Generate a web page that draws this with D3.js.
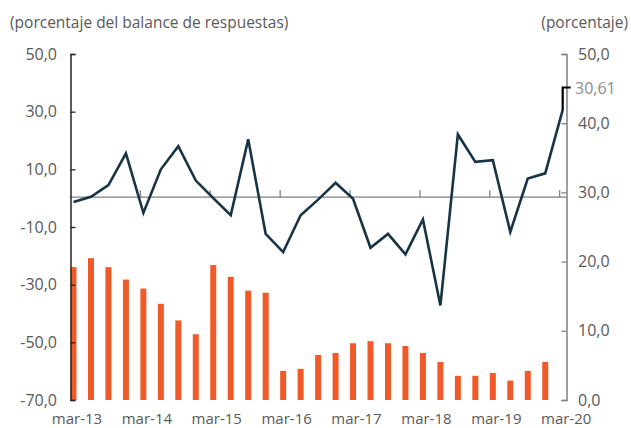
<!DOCTYPE html>
<html><head><meta charset="utf-8">
<script src="https://cdn.jsdelivr.net/npm/d3@7"></script>
<style>body{margin:0;background:#fff}svg{display:block}text{font-family:"Open Sans",sans-serif}</style>
</head><body><svg id="c" width="631" height="428"></svg>
<script>
const quarters = d3.range(29); // 2013Q1 .. 2020Q1
const lineValues = [-1.3,0.5,4.5,15.5,-5.1,10.0,18.0,6.1,0.0,-5.9,20.4,-12.4,-18.7,-5.9,-0.5,5.3,-0.2,-17.2,-12.4,-19.5,-7.4,-37.2,22.1,12.6,13.2,-11.7,6.8,8.6,30.61];
const barValues = [19.2,20.5,19.2,17.4,16.1,13.9,11.5,9.5,19.5,17.8,15.8,15.5,4.2,4.5,6.5,6.8,8.2,8.5,8.2,7.8,6.8,5.5,3.5,3.5,3.9,2.8,4.2,5.5];
const xLabels = ["mar-13","mar-14","mar-15","mar-16","mar-17","mar-18","mar-19","mar-20"];
const leftTicks = [50,30,10,-10,-30,-50,-70];
const rightTicks = [50,40,30,20,10,0];
const lastLabel = "30,61";

const svg = d3.select("#c");
const x = d3.scaleLinear().domain([0,28]).range([73.5,562.7]);
const yL = d3.scaleLinear().domain([-70,50]).range([400,54]);
const yR = d3.scaleLinear().domain([0,50]).range([400,54]);
const fmt = v => d3.format(".1f")(v).replace(".",",").replace("−","-");
const txt = "#595959";

// bars
svg.append("g").selectAll("rect").data(barValues).join("rect")
  .attr("x",(d,i)=>x(i)-3).attr("width",6)
  .attr("y",d=>yR(d)).attr("height",d=>yR(0)-yR(d))
  .attr("fill","#f05a28");

// zero line
const y0 = yL(0)-1;
svg.append("line").attr("x1",70).attr("x2",566.7).attr("y1",y0).attr("y2",y0)
  .attr("stroke","#7f7f7f").attr("stroke-width",1.3);
svg.append("g").selectAll("line").data(d3.range(4,29,4)).join("line")
  .attr("x1",d=>x(d)-3).attr("x2",d=>x(d)-3).attr("y1",y0-7).attr("y2",y0)
  .attr("stroke","#7f7f7f").attr("stroke-width",1.3);

// left axis
const gL = svg.append("g").attr("transform","translate(70.5,0)")
  .call(d3.axisRight(yL).tickValues(leftTicks).tickSize(5).tickFormat(""));
gL.select(".domain").attr("stroke","#262626").attr("stroke-width",1.5);
gL.selectAll(".tick line").attr("stroke","#262626").attr("stroke-width",1.3);
svg.append("g").selectAll("text").data(leftTicks).join("text")
  .attr("x",57).attr("y",d=>yL(d)).attr("dy","0.35em").attr("text-anchor","end")
  .attr("font-size",16).attr("fill",txt).text(fmt);

// right axis
const gR = svg.append("g").attr("transform","translate(566.5,0)")
  .call(d3.axisLeft(yR).tickValues(rightTicks).tickSize(5).tickFormat(""));
gR.select(".domain").attr("stroke","#7f7f7f").attr("stroke-width",1.5);
gR.selectAll(".tick line").attr("stroke","#7f7f7f").attr("stroke-width",1.3);
svg.append("g").selectAll("text").data(rightTicks).join("text")
  .attr("x",578).attr("y",d=>yR(d)).attr("dy","0.35em")
  .attr("font-size",16).attr("fill",txt).text(fmt);

// line
svg.append("path").datum(lineValues)
  .attr("d",d3.line().x((d,i)=>x(i)).y(d=>yL(d)))
  .attr("fill","none").attr("stroke","#173445").attr("stroke-width",2.6).attr("stroke-linejoin","miter");

// last value label with leader
const lx = x(28), ly = yL(lineValues[28]);
svg.append("path").attr("d",`M${lx},${ly} L${lx},87.5 L${lx+8},87.5`)
  .attr("fill","none").attr("stroke","#000").attr("stroke-width",2.2);
svg.append("text").attr("x",575).attr("y",88).attr("dy","0.35em")
  .attr("font-size",16).attr("fill","#8c8c8c").text(lastLabel);

// x labels
svg.append("g").selectAll("text").data(xLabels).join("text")
  .attr("x",(d,i)=>x(i*4)+3.5).attr("y",424).attr("text-anchor","middle")
  .attr("font-size",15).attr("fill",txt).text(d=>d);

// titles
svg.append("text").attr("x",10).attr("y",28).attr("font-size",15.5).attr("fill",txt)
  .text("(porcentaje del balance de respuestas)");
svg.append("text").attr("x",628).attr("y",28).attr("text-anchor","end").attr("font-size",15.5).attr("fill",txt)
  .text("(porcentaje)");
</script></body></html>
